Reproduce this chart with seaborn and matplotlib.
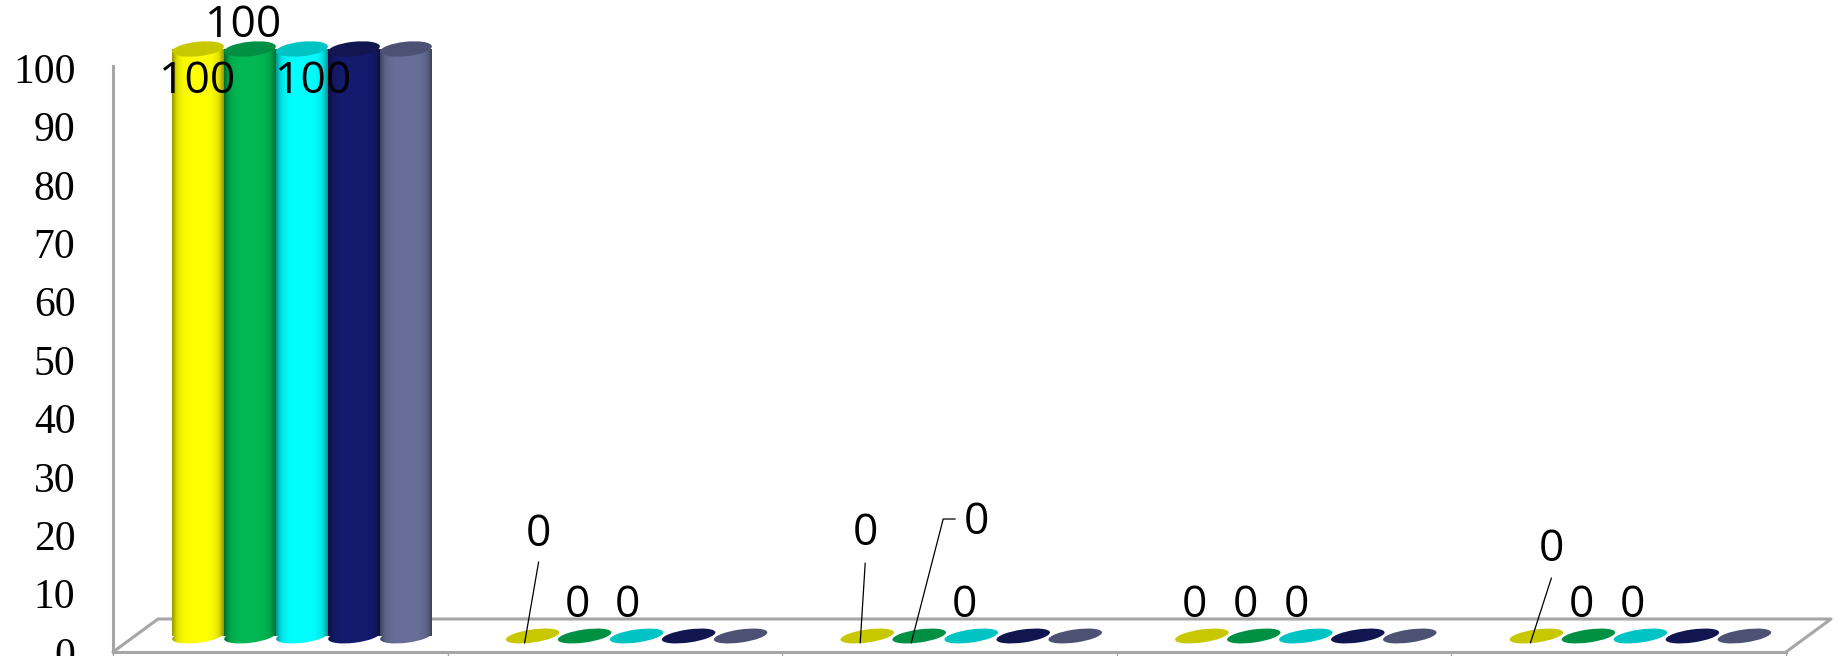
import numpy as np
import pandas as pd
import seaborn as sns
import matplotlib
matplotlib.use('Agg')
import matplotlib.pyplot as plt
from matplotlib.lines import Line2D
from matplotlib.patches import Ellipse
from matplotlib.path import Path
from matplotlib.transforms import Affine2D, IdentityTransform

# data
categories = ['c1', 'c2', 'c3', 'c4', 'c5']
series = ['s1', 's2', 's3', 's4', 's5']
s1 = [100, 0, 0, 0, 0]
s2 = [100, 0, 0, 0, 0]
s3 = [100, 0, 0, 0, 0]
s4 = [100, 0, 0, 0, 0]
s5 = [100, 0, 0, 0, 0]
y_ticks = [0, 10, 20, 30, 40, 50, 60, 70, 80, 90, 100]

side_colors = ['#FFFF00', '#00B852', '#00FFFF', '#151B6E', '#687099']
top_colors = ['#C8C800', '#009044', '#00C4C4', '#111550', '#4D5275']

# data labels: series index, category index, offset from bar top in px
label_offsets = [
    (0, 0, -1, -33), (1, 0, -7, 23), (2, 0, 11, -33),
    (0, 1, 6, 101), (1, 1, -7, 30), (2, 1, -9, 30),
    (0, 2, -2, 102), (1, 2, 57, 113), (2, 2, -7, 30),
    (0, 3, -7, 30), (1, 3, -8, 30), (2, 3, -9, 30),
    (0, 4, 15, 86), (1, 4, -7, 30), (2, 4, -8, 30),
]
# leader lines, same offsets
leaders = [
    (0, 1, [6, -8], [74, -7]),
    (0, 2, [-2, -7], [73, -7]),
    (1, 2, [36, 24, -8], [117, 117, -7]),
    (0, 4, [15, -6], [58, -7]),
]

W, H = 1840, 656
GRAY = '#A6A6A6'

sns.set_theme(style='white')
df = pd.DataFrame({'cat': categories * 5,
                   'series': np.repeat(series, 5),
                   'value': s1 + s2 + s3 + s4 + s5})

fig = plt.figure(figsize=(W / 100, H / 100), dpi=100)
fig.patch.set_facecolor('white')

def box(left, right, top, bottom):
    return [left / W, 1 - bottom / H, (right - left) / W, (bottom - top) / H]

# front plane, carries the axis and the floor
ax0 = fig.add_axes(box(113, 1786, 66, 652))
ax0.set_xlim(0, 5)
ax0.set_ylim(0, 100.34)
ax0.set_xticks(range(6))
ax0.set_xticklabels([])
ax0.set_yticks(y_ticks)
ax0.set_yticklabels([str(v) for v in y_ticks], family='Liberation Serif', fontsize=30, color='black')
ax0.tick_params(axis='y', length=0, pad=27)
ax0.tick_params(axis='x', length=3, width=1, color=GRAY, bottom=True)
for s in ['top', 'right']:
    ax0.spines[s].set_visible(False)
for s in ['left', 'bottom']:
    ax0.spines[s].set_color(GRAY)
    ax0.spines[s].set_linewidth(2.2)

# floor back edge and sides
dx, dy = 45 / 1673, 33 / 586
ax0.plot([0, dx, 1 + dx, 1], [0, dy, dy, 0], color=GRAY, lw=2.2, transform=ax0.transAxes, clip_on=False)

# bars sit a bit further back than the axis
ax = fig.add_axes(box(134.7, 1807.7, 49, 636))
ax.patch.set_alpha(0)
sns.barplot(data=df, x='cat', y='value', hue='series', hue_order=series, order=categories,
            palette=side_colors, saturation=1, width=0.777, gap=0, legend=False, ax=ax)
ax.set_xlim(-0.5, 4.5)
ax.set_ylim(0, 100)
ax.axis('off')

shade_x = np.linspace(-1, 1, 80)
shade = 1 - 0.3 * np.abs(shade_x) ** 4
shade[:8] *= np.linspace(0.85, 1, 8)
shade[-8:] *= np.linspace(1, 0.85, 8)

fig.canvas.draw()
for i, cont in enumerate(ax.containers):
    z = 3 + i
    rgb = np.array(matplotlib.colors.to_rgb(side_colors[i]))
    for bar in cont:
        bar.set_visible(False)
        h = bar.get_height()
        cx = bar.get_x() + bar.get_width() / 2
        px, py = ax.transData.transform((cx, 0))
        if h > 0:
            tx, ty = ax.transData.transform((cx, h))
            wpx = 52
            img = (shade[None, :, None] * rgb)
            im = ax.imshow(img, extent=(bar.get_x(), bar.get_x() + bar.get_width(), -2, h),
                           aspect='auto', zorder=z, interpolation='bilinear')
            rect = Path.unit_rectangle().transformed(Affine2D().scale(wpx, ty - py).translate(px - wpx / 2, py))
            base = Path.unit_circle().transformed(Affine2D().scale(wpx / 2, 6.8).rotate_deg(7).translate(px, py))
            im.set_clip_box(fig.bbox)
            im.set_clip_path(Path.make_compound_path(rect, base), IdentityTransform())
            cap = Ellipse((0, 0), wpx, 14.5, angle=6, facecolor=top_colors[i], edgecolor='none',
                          transform=Affine2D().translate(tx, ty), zorder=z + 0.5, clip_on=False)
            ax.add_artist(cap)
        else:
            disc = Ellipse((0, 0), 54, 13, angle=8, facecolor=top_colors[i], edgecolor='none',
                           transform=Affine2D().translate(px, py), zorder=z, clip_on=False)
            ax.add_artist(disc)
ax.set_xlim(-0.5, 4.5)
ax.set_ylim(0, 100)

values = [s1, s2, s3, s4, s5]
centers = {}
for i, cont in enumerate(ax.containers):
    for j, bar in enumerate(cont):
        centers[(i, j)] = bar.get_x() + bar.get_width() / 2

for i, j, ox, oy in label_offsets:
    v = values[i][j]
    ax.annotate(str(v), xy=(centers[(i, j)], v), xytext=(ox, oy), textcoords='offset pixels',
                ha='center', va='center', fontsize=32, family='Open Sans', color='black',
                zorder=20, annotation_clip=False)

for i, j, xs, ys in leaders:
    px, py = ax.transData.transform((centers[(i, j)], values[i][j]))
    ax.add_artist(Line2D(xs, ys, color='black', lw=0.9, zorder=15, clip_on=False,
                         transform=Affine2D().translate(px, py)))

fig.savefig('out.png', dpi=100)
